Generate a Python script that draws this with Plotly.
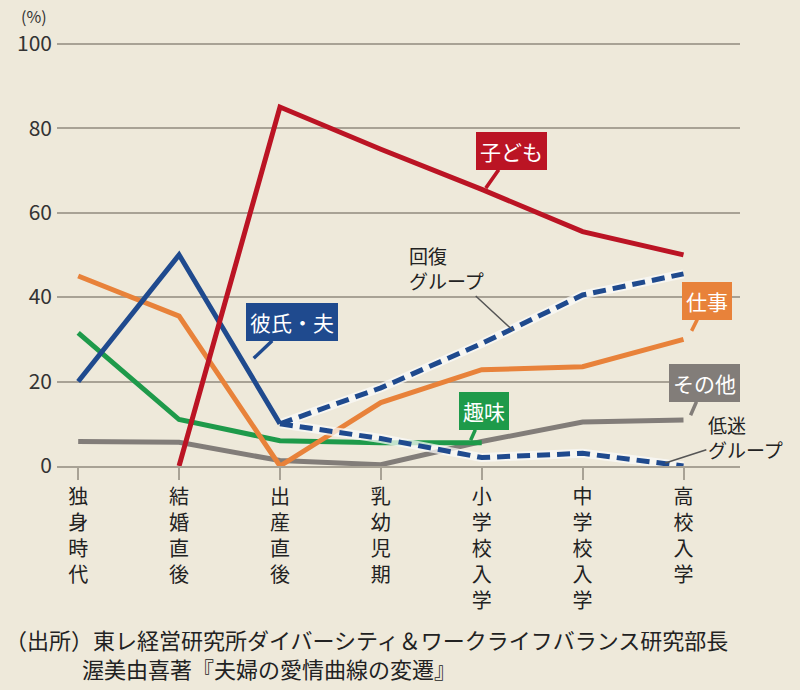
import plotly.graph_objects as go

categories = ["独身時代", "結婚直後", "出産直後", "乳幼児期", "小学校入学", "中学校入学", "高校入学"]
tick_labels = ["<br>".join(list(c)) for c in categories]
y_ticks = [0, 20, 40, 60, 80, 100]

kodomo = [None, 0, 85, 75, 65.5, 55.5, 50]
shigoto = [45, 35.5, 0, 15, 22.8, 23.5, 30]
shumi = [31.5, 11, 6, 5.5, 5.5, None, None]
sonota = [5.8, 5.6, 1.3, 0.3, 5.8, 10.4, 10.9]
kareshi = [20, 50, 10, None, None, None, None]
kaifuku = [None, None, 10, 18.5, 29, 40.5, 45.5]
teimei = [None, None, 10, 6.5, 2, 3, 0]

source_lines = ["（出所）東レ経営研究所ダイバーシティ＆ワークライフバランス研究部長",
                "渥美由喜著『夫婦の愛情曲線の変遷』"]

BG = "#eee9da"
RED = "#bb1424"
BLUE = "#1f4a8e"
ORANGE = "#e8823a"
GREEN = "#1e9a4a"
GRAY = "#827d79"
GRID = "#a8a295"
FONT = "Noto Sans CJK JP"

fig = go.Figure()

def add_line(vals, color, width=5, dash="solid"):
    fig.add_trace(go.Scatter(x=categories, y=vals, mode="lines",
                             line=dict(color=color, width=width, dash=dash),
                             connectgaps=False, cliponaxis=False,
                             hoverinfo="skip", showlegend=False))

add_line(sonota, GRAY)
add_line(shumi, GREEN)
add_line(shigoto, ORANGE)
# dashed branches with light halo
add_line(kaifuku, "rgba(250,250,248,0.75)", width=9)
add_line(teimei, "rgba(250,250,248,0.75)", width=9)
add_line(kaifuku, BLUE, width=5, dash="13px,7px")
add_line(teimei, BLUE, width=5, dash="13px,7px")
add_line(kareshi, BLUE)
add_line(kodomo, RED)

def callout(text, x, y, ax, ay, bg, fc="white"):
    fig.add_annotation(x=x, y=y, xref="x", yref="y", ax=ax, ay=ay,
                       text=text, showarrow=True, arrowhead=0, arrowwidth=3.5,
                       arrowcolor=bg, bgcolor=bg, bordercolor=bg, borderpad=3,
                       font=dict(family=FONT, size=21, color=fc))

callout("子ども", 4.04, 65.8, 26, -37, RED)
callout("彼氏・夫", 1.74, 25.5, 38, -36, BLUE)
callout("仕事", 6.08, 32, 15, -30, ORANGE)
callout("その他", 6.07, 12, 14, -32, GRAY)
callout("趣味", 3.89, 6.1, 13, -29, GREEN)

def note(text, x, y, ax, ay):
    fig.add_annotation(x=x, y=y, xref="x", yref="y", ax=ax, ay=ay,
                       text=text, align="left", showarrow=True, arrowhead=0,
                       arrowwidth=1.5, arrowcolor="#555",
                       font=dict(family=FONT, size=19, color="#222"))

note("回復<br>グループ", 4.31, 32.1, -67, -62)
note("低迷<br>グループ", 5.82, 0.7, 80, -26)

fig.add_annotation(text="(%)", xref="paper", yref="paper", x=-0.033, y=1.061,
                   xanchor="center", yanchor="middle",
                   showarrow=False, font=dict(family=FONT, size=16, color="#333"))
fig.add_annotation(text=source_lines[0] + "<br>\u3000\u3000\u3000\u2002" + source_lines[1],
                   xref="paper", yref="paper", x=-0.079, y=-0.443, xanchor="left",
                   yanchor="middle", align="left", showarrow=False,
                   font=dict(family=FONT, size=22, color="#222"))

fig.update_layout(
    width=800, height=690,
    margin=dict(l=57, r=60, t=42, b=224, autoexpand=False),
    paper_bgcolor=BG, plot_bgcolor=BG,
    font=dict(family=FONT, color="#222"),
    showlegend=False,
)
fig.update_xaxes(type="category", range=[-0.21, 6.56], tickvals=categories,
                 ticktext=tick_labels, showgrid=False, showline=True,
                 linecolor=GRID, linewidth=1.5, ticks="outside", ticklen=12,
                 tickcolor=GRID, tickwidth=1.5, tickangle=0,
                 tickfont=dict(family=FONT, size=20, color="#222"), zeroline=False)
fig.update_yaxes(range=[0, 100.4], tickvals=y_ticks, showgrid=True, gridcolor=GRID,
                 gridwidth=1.5, zeroline=False, showline=False, ticks="",
                 ticklabelstandoff=4,
                 tickfont=dict(family=FONT, size=21, color="#333"))

fig.write_html("out.html", config={"displayModeBar": False},
               post_script="document.body.style.margin='0';document.body.style.background='#eee9da';")
